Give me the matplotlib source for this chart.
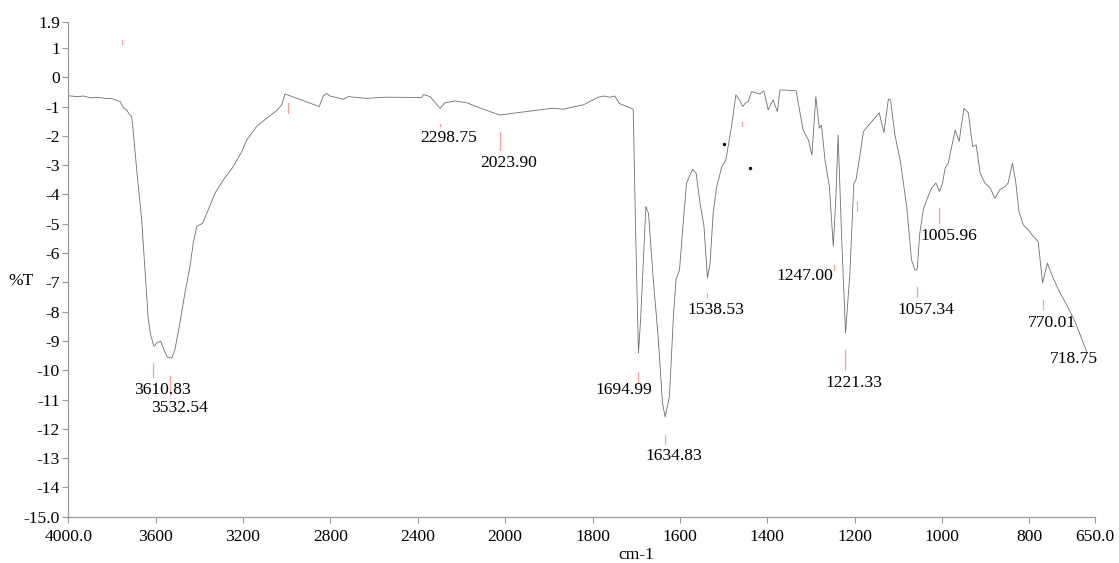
import numpy as np
import matplotlib
matplotlib.use("Agg")
import matplotlib.pyplot as plt

# ---- data ----
wavenumber = [4000, 3960, 3930, 3900, 3860, 3830, 3801, 3763, 3745, 3733, 3721, 3710, 3702,
              3684, 3664, 3649, 3634, 3623, 3608, 3593, 3577, 3562, 3547, 3527, 3512,
              3492, 3466, 3443, 3428, 3412, 3385, 3366, 3328, 3290, 3245, 3206, 3183,
              3138, 3092, 3046, 3023, 3008, 2851, 2833, 2817, 2802, 2741, 2718, 2634,
              2550, 2382, 2375, 2344, 2298, 2276, 2230, 2176, 2100, 2024,
              1973, 1935, 1893, 1867, 1821, 1787, 1774, 1760, 1749, 1739, 1707, 1701,
              1695, 1690, 1678, 1672, 1661, 1650, 1640, 1634, 1624, 1615, 1609, 1601,
              1592, 1585, 1571, 1563, 1554, 1545, 1537, 1531, 1524, 1516, 1504, 1495,
              1482, 1472, 1464, 1456, 1451, 1444, 1436, 1417, 1408, 1398, 1387, 1377,
              1371, 1334, 1325, 1318, 1306, 1298, 1289, 1281, 1276, 1268, 1258, 1249,
              1243, 1238, 1230, 1221, 1211, 1202, 1197, 1188, 1180, 1144, 1133, 1123,
              1118, 1108, 1096, 1081, 1070, 1062, 1057, 1051, 1043, 1035, 1024, 1014,
              1006, 999, 993, 986, 978, 970, 961, 950, 940, 930, 922, 913, 902, 890,
              879, 868, 856, 849, 839, 832, 824, 814, 803, 791, 780, 770, 759, 746,
              730, 715, 696, 669]
transmittance = [-0.63, -0.66, -0.64, -0.70, -0.69, -0.72, -0.73, -0.83, -1.06, -1.11, -1.26, -1.34, -1.91,
                 -3.39, -4.87, -6.57, -8.27, -8.79, -9.18, -9.05, -9.01, -9.30, -9.55, -9.59, -9.30,
                 -8.50, -7.36, -6.46, -5.66, -5.09, -4.98, -4.64, -3.95, -3.50, -3.05, -2.54, -2.14,
                 -1.68, -1.40, -1.14, -0.94, -0.57, -1.00, -0.64, -0.55, -0.64, -0.75, -0.66, -0.72,
                 -0.68, -0.69, -0.59, -0.66, -1.06, -0.87, -0.81, -0.87, -1.09, -1.29,
                 -1.21, -1.14, -1.06, -1.09, -0.94, -0.68, -0.64, -0.68, -0.64, -0.89, -1.09, -5.55,
                 -9.41, -8.27, -4.41, -4.64, -6.91, -8.84, -11.11, -11.59, -10.89, -8.16, -6.91, -6.57,
                 -4.87, -3.61, -3.14, -3.27, -4.30, -5.09, -6.85, -6.34, -4.64, -3.73, -3.05, -2.82,
                 -1.68, -0.60, -0.77, -1.00, -0.89, -0.83, -0.49, -0.57, -0.46, -1.11, -0.77, -1.17,
                 -0.43, -0.46, -1.23, -1.80, -2.14, -2.65, -0.66, -1.74, -1.63, -2.82, -3.73, -5.77,
                 -4.07, -1.97, -5.44, -8.73, -6.68, -3.62, -3.50, -2.65, -1.85, -1.21, -1.89, -0.75,
                 -0.77, -1.97, -2.82, -4.41, -6.23, -6.59, -6.55, -5.32, -4.52, -4.18, -3.78, -3.61,
                 -3.90, -3.61, -3.10, -2.93, -2.37, -1.80, -2.19, -1.06, -1.21, -2.37, -2.31, -3.27, -3.61, -3.78,
                 -4.13, -3.84, -3.73, -3.61, -2.93, -3.50, -4.58, -5.04, -5.21, -5.43, -5.61, -7.02, -6.34, -6.85,
                 -7.36, -7.76, -8.33, -9.36]

# peak labels: wavenumber, marker top, marker bottom, label level
peak_wn = [3610.83, 3532.54, 2298.75, 2023.90, 1694.99, 1634.83, 1538.53,
           1247.00, 1221.33, 1057.34, 1005.96, 770.01, 718.75]
peak_mark_top = [-9.74, -10.18, -1.59, -1.86, -10.05, -12.2, -7.35,
                 -6.40, -9.30, -7.15, -4.46, -7.59, None]
peak_mark_bot = [-10.22, -10.83, -1.66, -2.48, -10.39, -12.5, -7.49,
                 -6.57, -9.98, -7.49, -4.97, -7.90, None]
peak_label_y = [-10.66, -11.27, -2.07, -2.92, -10.66, -12.94, -7.93,
                -6.77, -10.43, -7.93, -5.43, -8.38, -9.60]

# unlabeled peak markers
extra_mark_wn = [3752, 2996, 1457, 1195.5]
extra_mark_top = [1.27, -0.88, -1.52, -4.24]
extra_mark_bot = [1.13, -1.22, -1.66, -4.58]

dots_wn = [1500, 1440]
dots_t = [-2.27, -3.09]

x_ticks = [4000, 3600, 3200, 2800, 2400, 2000, 1800, 1600, 1400, 1200, 1000, 800, 650]
x_tick_labels = ["4000.0", "3600", "3200", "2800", "2400", "2000", "1800", "1600",
                 "1400", "1200", "1000", "800", "650.0"]
y_ticks = [1.9] + list(range(1, -15, -1)) + [-15.0]
y_tick_labels = ["1.9"] + [str(v) for v in range(1, -15, -1)] + ["-15.0"]

# ---- plotting ----
plt.rcParams['font.family'] = ['Liberation Serif', 'DejaVu Serif']
FS = 12.6

W, H = 1119, 563
fig = plt.figure(figsize=(W / 100, H / 100), dpi=100)
ax_left, ax_right, ax_top, ax_bot = 68.3, 1095.0, 21.6, 516.8
ax = fig.add_axes([ax_left / W, 1 - ax_bot / H, (ax_right - ax_left) / W, (ax_bot - ax_top) / H])


def fwd(x):
    x = np.asarray(x, dtype=float)
    return np.where(x >= 2000, x, 2 * x - 2000)


def inv(u):
    u = np.asarray(u, dtype=float)
    return np.where(u >= 2000, u, (u + 2000) / 2)


ax.set_xscale('function', functions=(fwd, inv))
ax.set_xlim(4000, 650)
ax.set_ylim(-15.0, 1.9)

ax.plot(wavenumber, transmittance, color='#6e6e6e', lw=0.6)

pink = '#f4a0a0'
for wn, t0, t1 in zip(peak_wn, peak_mark_top, peak_mark_bot):
    if t0 is not None:
        ax.plot([wn, wn], [t0, t1], color=pink, lw=0.9)
for wn, t0, t1 in zip(extra_mark_wn, extra_mark_top, extra_mark_bot):
    ax.plot([wn, wn], [t0, t1], color=pink, lw=0.9)
ax.scatter(dots_wn, dots_t, s=2, color='black', zorder=3)

label_dx = {1694.99: -15, 1247.00: -29}
for wn, ly in zip(peak_wn, peak_label_y):
    dx = label_dx.get(wn, 9)
    ax.annotate(f"{wn:.2f}", xy=(wn, ly), xytext=(dx, 0), textcoords='offset pixels',
                ha='center', va='center', fontsize=FS, color='black')

ax.set_xticks(x_ticks)
ax.set_xticklabels(x_tick_labels)
ax.set_yticks(y_ticks)
ax.set_yticklabels(y_tick_labels)
ax.minorticks_off()

for side in ['top', 'right']:
    ax.spines[side].set_visible(False)
for side in ['left', 'bottom']:
    ax.spines[side].set_color('#9a9a9a')
    ax.spines[side].set_linewidth(0.9)
ax.tick_params(axis='both', direction='out', length=4, width=0.8, color='#9a9a9a',
               labelsize=FS, labelcolor='black')
ax.tick_params(axis='y', pad=2)
ax.tick_params(axis='x', pad=5)

ax.set_ylabel('%T', rotation=0, fontsize=FS, ha='center', va='center')
ax.yaxis.set_label_coords((20.7 - ax_left) / (ax_right - ax_left), (ax_bot - 281) / (ax_bot - ax_top))
ax.set_xlabel('cm-1', fontsize=FS, ha='center', va='center')
ax.xaxis.set_label_coords((636 - ax_left) / (ax_right - ax_left), (ax_bot - 555) / (ax_bot - ax_top))

fig.savefig('out.png', dpi=100)
